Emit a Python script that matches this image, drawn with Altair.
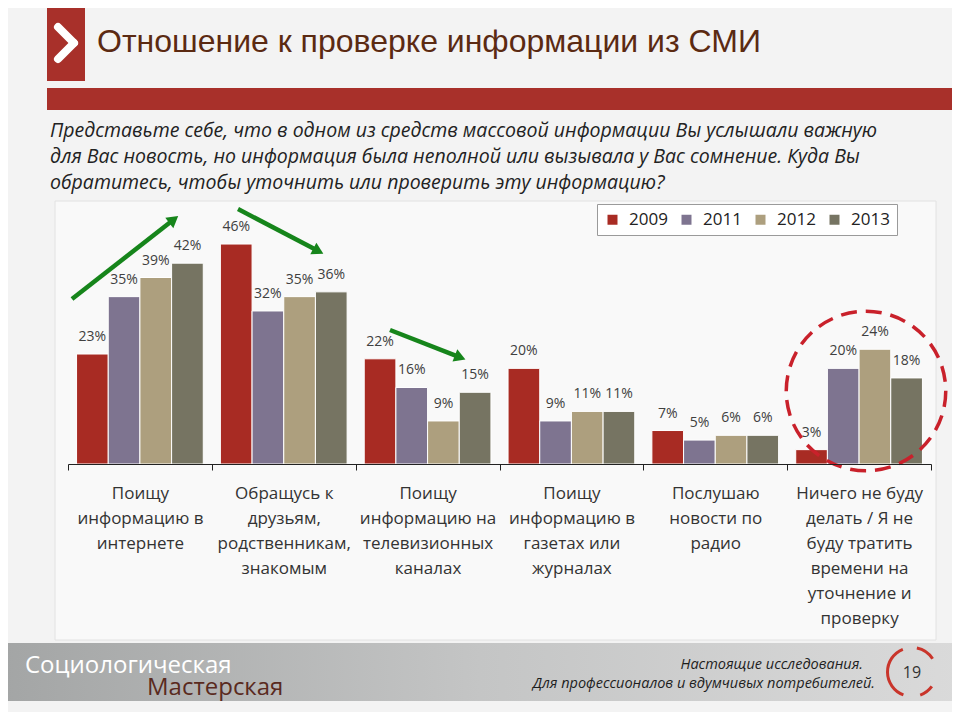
import math
import altair as alt
import pandas as pd

# ---------------- data ----------------
years = ["2009", "2011", "2012", "2013"]
year_colors = ["#a82b23", "#7e7490", "#ad9f7e", "#767462"]
categories = [
    "Поищу\nинформацию в\nинтернете",
    "Обращусь к\nдрузьям,\nродственникам,\nзнакомым",
    "Поищу\nинформацию на\nтелевизионных\nканалах",
    "Поищу\nинформацию в\nгазетах или\nжурналах",
    "Послушаю\nновости по\nрадио",
    "Ничего не буду\nделать / Я не\nбуду тратить\nвремени на\nуточнение и\nпроверку",
]
v2009 = [23, 46, 22, 20, 7, 3]
v2011 = [35, 32, 16, 9, 5, 20]
v2012 = [39, 35, 9, 11, 6, 24]
v2013 = [42, 36, 15, 11, 6, 18]

title_text = "Отношение к проверке информации из СМИ"
question_lines = [
    "Представьте себе, что в одном из средств массовой информации Вы услышали важную",
    "для Вас новость, но информация была неполной или вызывала у Вас сомнение. Куда Вы",
    "обратитесь, чтобы уточнить или проверить эту информацию?",
]
footer_left_1 = "Социологическая"
footer_left_2 = "Мастерская"
footer_right_1 = "Настоящие исследования."
footer_right_2 = "Для профессионалов и вдумчивых потребителей."
page_number = "19"

rows = []
for yr, vals in zip(years, [v2009, v2011, v2012, v2013]):
    for cat, v in zip(categories, vals):
        rows.append({"category": cat, "year": yr, "value": v, "label": f"{v}%"})
df = pd.DataFrame(rows)

one = pd.DataFrame({"a": [0]})

# page -> plot coordinates (plot origin at page (68, 201))
OX, OY = 68, 201
def px(x):
    return x - OX
def py(y):
    return y - OY

W, H = 863, 263

# ---------------- decorations ----------------
def rect(x1, y1, x2, y2, **kw):
    return alt.Chart(one).mark_rect(**kw).encode(
        x=alt.value(px(x1)), x2=alt.value(px(x2)),
        y=alt.value(py(y1)), y2=alt.value(py(y2)))

def seg(x1, y1, x2, y2, **kw):
    return alt.Chart(one).mark_rule(**kw).encode(
        x=alt.value(px(x1)), x2=alt.value(px(x2)),
        y=alt.value(py(y1)), y2=alt.value(py(y2)))

def txt(x, y, s, **kw):
    return alt.Chart(one).mark_text(**kw).encode(
        x=alt.value(px(x)), y=alt.value(py(y)), text=alt.value(s))

frame = rect(55, 201, 936, 640, fill="#f9f9f9", stroke="#e2e2e2", strokeWidth=1)

footer = rect(0, 643, 960, 701, fill=alt.Gradient(
    gradient="linear", x1=0, x2=1, y1=0, y2=0,
    stops=[alt.GradientStop(offset=0, color="#a3a5a5"),
           alt.GradientStop(offset=0.5, color="#c4c5c5"),
           alt.GradientStop(offset=1, color="#dadada")]))

red_block = rect(47, 0, 85, 81, fill="#a8302a")
red_band = rect(47, 88, 960, 110, fill="#a8302a")
chev1 = seg(58, 27, 74, 43, color="white", strokeWidth=8, strokeCap="round")
chev2 = seg(74, 43, 58, 59, color="white", strokeWidth=8, strokeCap="round")

title = txt(97, 52, title_text, align="left", baseline="alphabetic", fontSize=32,
            font="Liberation Sans Narrow, Arial Narrow, Liberation Sans", color="#5b2a12")

question = alt.Chart(one).mark_text(
    align="left", baseline="alphabetic", fontSize=19.5, fontStyle="italic",
    font="Open Sans", color="#222222", lineHeight=26).encode(
    x=alt.value(px(50)), y=alt.value(py(137)), text=alt.value(question_lines))

# arrows
def arrow(x1, y1, x2, y2, color="#16851b"):
    dx, dy = x2 - x1, y2 - y1
    L = math.hypot(dx, dy)
    ux, uy = dx / L, dy / L
    ang = math.degrees(math.atan2(dx, -dy)) % 360
    line = seg(x1, y1, x2 - 9 * ux, y2 - 9 * uy, color=color, strokeWidth=4.5)
    head = alt.Chart(one).mark_point(shape="triangle", filled=True, size=170,
                                     color=color, opacity=1, angle=ang).encode(
        x=alt.value(px(x2 - 6 * ux)), y=alt.value(py(y2 - 6 * uy)))
    return [line, head]

arrows = arrow(72, 299, 177, 217) + arrow(238, 209, 322, 253) + arrow(390, 330, 464, 359)

circle = alt.Chart(one).mark_point(shape="circle", filled=False, size=math.pi * 90 ** 2,
                                   color="#c9212b", strokeWidth=3.5, strokeDash=[16, 9],
                                   opacity=1).encode(
    x=alt.value(px(866)), y=alt.value(py(391)))

# footer texts
f1 = txt(25, 673, footer_left_1, align="left", baseline="alphabetic", fontSize=24,
         font="Open Sans", color="#ffffff")
f2 = txt(147, 695, footer_left_2, align="left", baseline="alphabetic", fontSize=24,
         font="Open Sans", color="#5a2a1e")
f3 = txt(863, 669, footer_right_1, align="right", baseline="alphabetic", fontSize=14.5,
         fontStyle="italic", font="Open Sans", color="#1e1e1e")
f4 = txt(875, 688, footer_right_2, align="right", baseline="alphabetic", fontSize=14.5,
         fontStyle="italic", font="Open Sans", color="#1e1e1e")
f5 = txt(912, 678, page_number, align="center", baseline="alphabetic", fontSize=16,
         font="Open Sans", color="#333333")

def arc(t1, t2):
    return alt.Chart(one).mark_arc(radius=26, radius2=23, theta=t1, theta2=t2,
                                   color="#c9352b").encode(
        x=alt.value(px(912)), y=alt.value(py(672)))

arcs = [arc(0.2, 1.0), arc(2.2, 2.8), arc(3.5, 5.9)]

# ---------------- bars ----------------
base = alt.Chart(df).encode(
    x=alt.X("category:N", sort=categories, title=None,
            scale=alt.Scale(paddingInner=0, paddingOuter=0),
            axis=alt.Axis(labelAngle=0, labelExpr="split(datum.label, '\\n')",
                          labelFontSize=17, labelFont="Open Sans", labelColor="#333333",
                          labelLineHeight=25, labelPadding=15, labelLimit=0,
                          tickBand="extent", tickSize=6, tickColor="#222222",
                          domainColor="#222222", grid=False, zindex=1)),
    xOffset=alt.XOffset("year:N", sort=years,
                        scale=alt.Scale(paddingInner=0, paddingOuter=0.27)),
    y=alt.Y("value:Q", scale=alt.Scale(domain=[0, 55]), axis=None),
)

bars = base.mark_bar(stroke="white", strokeWidth=1).encode(
    color=alt.Color("year:N", sort=years,
                    scale=alt.Scale(domain=years, range=year_colors),
                    legend=alt.Legend(title=None, orient="none", legendX=px(597), legendY=py(204),
                                      direction="horizontal", fillColor="#ffffff",
                                      strokeColor="#9a9a9a", padding=7,
                                      symbolType="square", symbolSize=100,
                                      symbolStrokeWidth=0, labelFontSize=17,
                                      labelFont="Open Sans", labelColor="#222222",
                                      labelOffset=8, columnPadding=10, zindex=2)))

labels = base.mark_text(baseline="alphabetic", dy=-13, fontSize=14,
                        font="Open Sans", color="#404040").encode(text="label:N")

chart = alt.layer(
    frame, footer, red_block, red_band, chev1, chev2, title, question,
    bars, labels, *arrows, circle, f1, f2, f3, f4, *arcs, f5,
).properties(
    width=W, height=H,
    autosize=alt.AutoSizeParams(type="none"),
    padding={"left": OX - 8, "top": OY - 8, "right": 944 - (OX - 8) - W,
             "bottom": 704 - (OY - 8) - H},
    background="#f3f3f3",
).configure_view(strokeWidth=0)

chart.save("out.html", embed_options={"renderer": "svg", "actions": False})
